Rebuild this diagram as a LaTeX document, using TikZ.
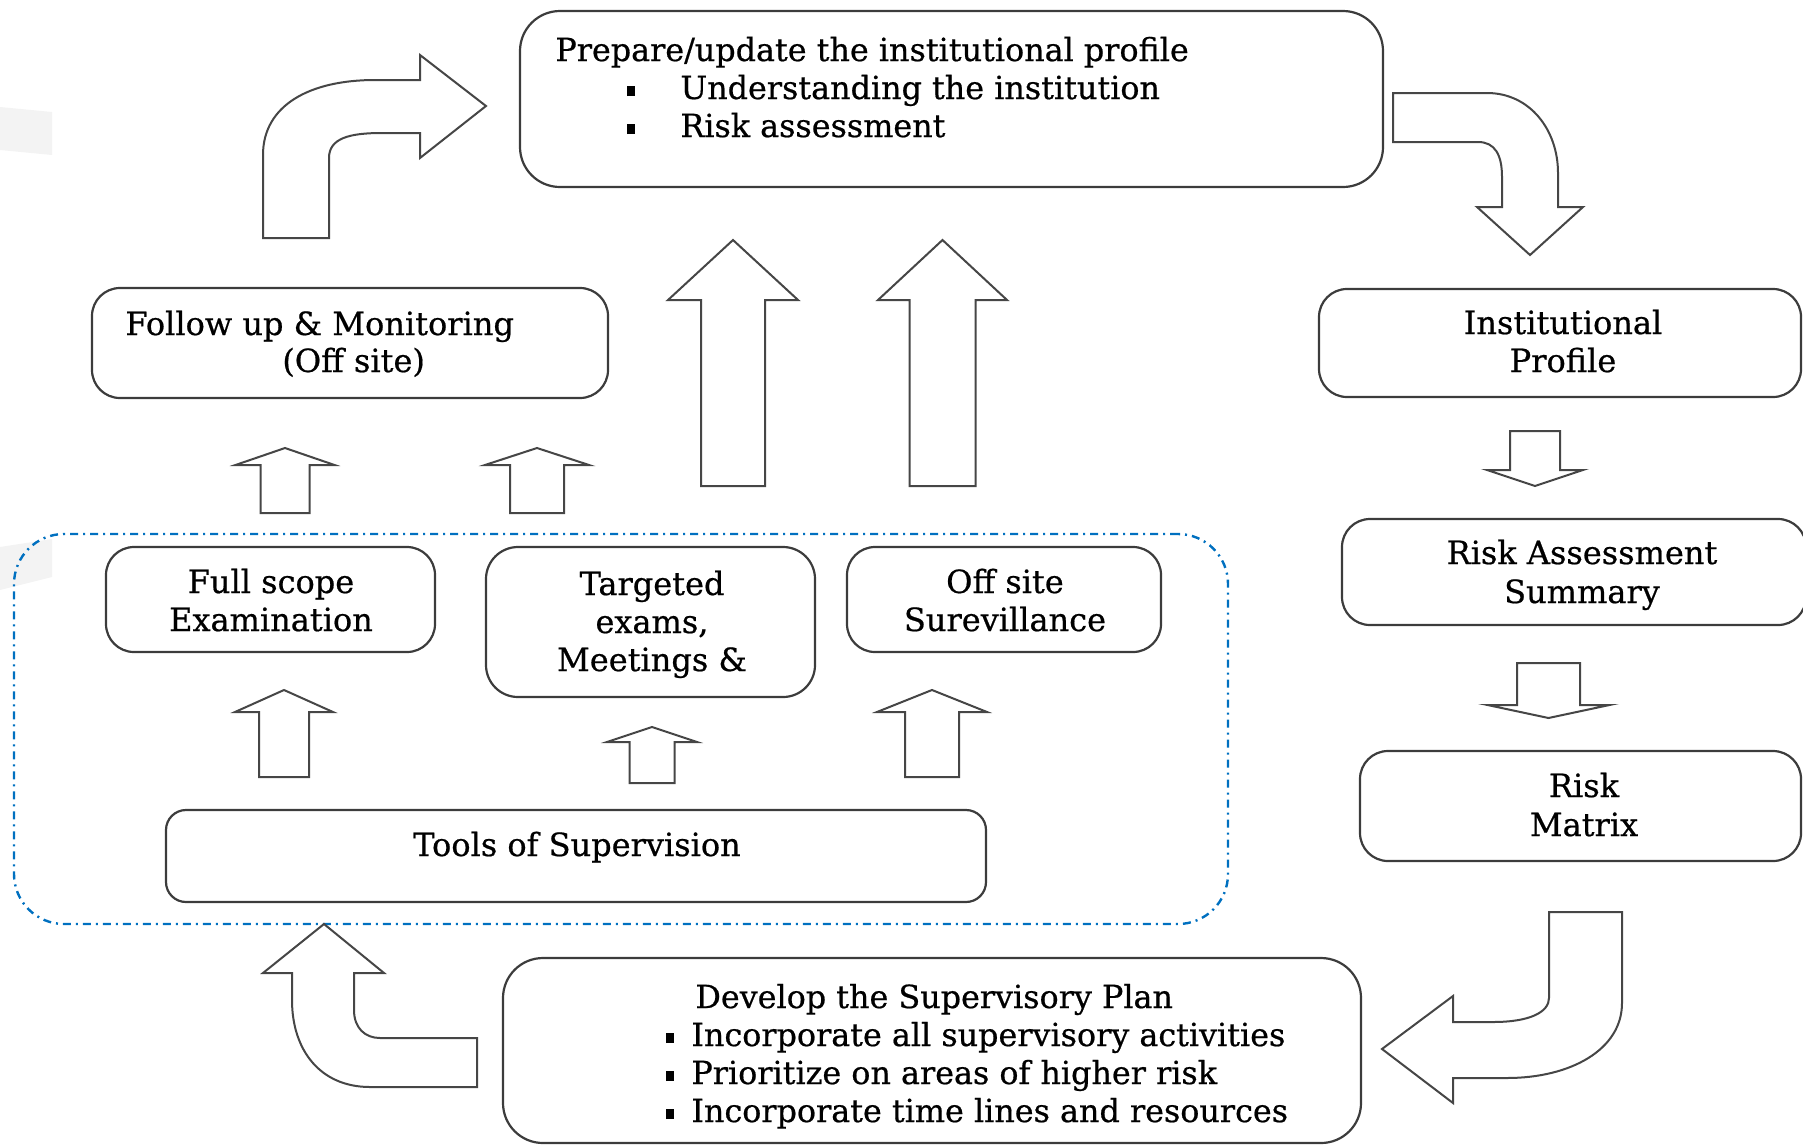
\documentclass[tikz,border=0pt]{standalone}
\usepackage{fontspec}
\setmainfont{DejaVu Serif}[FakeBold=0.6]
\usetikzlibrary{fit}
\definecolor{boxgray}{RGB}{60,60,60}
\definecolor{arrgray}{RGB}{70,70,70}
\definecolor{dotblue}{RGB}{0,112,192}
\definecolor{patch}{RGB}{243,243,243}
\newcommand{\sqbullet}{\rule[1.5pt]{4pt}{5pt}}
\newcommand{\blockarr}[6]{%
  \draw[blockarrow] ({#1-#5},#6) -- ({#1-#5},#3) -- ({#1-#4},#3) -- (#1,#2) -- ({#1+#4},#3) -- ({#1+#5},#3) -- ({#1+#5},#6) -- cycle;}
\begin{document}
\begin{tikzpicture}[x=0.5pt,y=-0.5pt,
  box/.style={draw=boxgray, line width=1.1pt, rounded corners=12pt, inner sep=0pt},
  blockarrow/.style={draw=arrgray, line width=1pt, fill=white, line join=miter},
  t16/.style={inner sep=0pt, font=\fontsize{16}{19}\selectfont},
  t14/.style={inner sep=0pt, font=\fontsize{15.9}{19}\selectfont}]
\useasboundingbox (0,0) rectangle (1803,1146);
% faint background patches
\fill[patch] (0,107) -- (52,112) -- (52,155) -- (0,150) -- cycle;
\fill[patch] (0,547) -- (52,539) -- (52,577) -- (0,590) -- cycle;
% dotted container
\node[draw=dotblue, line width=1.2pt, rounded corners=25pt, dash pattern=on 4pt off 2.5pt on 1pt off 2.5pt, inner sep=0pt, fit={(14,534) (1228,924)}] (group) {};
% boxes
\node[box, rounded corners=20pt, fit={(520,11) (1383,187)}] (top) {};
\node[box, rounded corners=14pt, fit={(92,288) (608,398)}] (follow) {};
\node[box, rounded corners=14pt, fit={(1319,289) (1801,397)}] (instprof) {};
\node[box, rounded corners=14pt, fit={(1342,519) (1806,625)}] (ras) {};
\node[box, rounded corners=14pt, fit={(1360,751) (1801,861)}] (rmatrix) {};
\node[box, rounded corners=14pt, fit={(106,547) (435,652)}] (fullscope) {};
\node[box, rounded corners=16pt, fit={(486,547) (815,697)}] (targeted) {};
\node[box, rounded corners=14pt, fit={(847,547) (1161,652)}] (offsite) {};
\node[box, rounded corners=10pt, fit={(166,810) (986,902)}] (tools) {};
\node[box, rounded corners=20pt, fit={(503,958) (1361,1143)}] (develop) {};
% texts
\node[t14, anchor=base west] (tl1) at (555,61) {Prepare/update the institutional profile};
\node[anchor=base west, inner sep=0pt] (tb1) at (627,99) {\sqbullet};
\node[t14, anchor=base west] (tl2) at (680,99) {Understanding the institution};
\node[anchor=base west, inner sep=0pt] (tb2) at (627,137) {\sqbullet};
\node[t14, anchor=base west] (tl3) at (680,137) {Risk assessment};
\node[t16, anchor=base west] (fu1) at (125,335) {Follow up \& Monitoring};
\node[t16, anchor=base west] (fu2) at (282,372) {(Off site)};
\node[t16, anchor=base] (ip1) at (1563,334) {Institutional};
\node[t16, anchor=base] (ip2) at (1563,372) {Profile};
\node[t16, anchor=base] (ras1) at (1582,564) {Risk Assessment};
\node[t16, anchor=base] (ras2) at (1582,603) {Summary};
\node[t16, anchor=base] (rm1) at (1584,797) {Risk};
\node[t16, anchor=base] (rm2) at (1584,836) {Matrix};
\node[t16, anchor=base] (fs1) at (271,593) {Full scope};
\node[t16, anchor=base] (fs2) at (271,631) {Examination};
\node[t16, anchor=base] (tg1) at (652,595) {Targeted};
\node[t16, anchor=base] (tg2) at (652,633) {exams,};
\node[t16, anchor=base] (tg3) at (652,671) {Meetings \&};
\node[t16, anchor=base] (os1) at (1005,593) {Off site};
\node[t16, anchor=base] (os2) at (1005,631) {Surevillance};
\node[t16, anchor=base] (toolst) at (577,856) {Tools of Supervision};
\node[t14, anchor=base west] (dv0) at (695,1008) {Develop the Supervisory Plan};
\node[anchor=base west, inner sep=0pt] (db1) at (666,1046) {\sqbullet};
\node[t14, anchor=base west] (dv1) at (691,1046) {Incorporate all supervisory activities};
\node[anchor=base west, inner sep=0pt] (db2) at (666,1084) {\sqbullet};
\node[t14, anchor=base west] (dv2) at (691,1084) {Prioritize on areas of higher risk};
\node[anchor=base west, inner sep=0pt] (db3) at (666,1122) {\sqbullet};
\node[t14, anchor=base west] (dv3) at (691,1122) {Incorporate time lines and resources};
% straight block arrows: cx, tip, headbase, halfhead, halfshaft, tail
\blockarr{285}{448}{465}{49.5}{24.5}{513}
\blockarr{537}{448}{465}{52}{27}{513}
\blockarr{733}{240}{300}{65}{32}{486}
\blockarr{942.5}{240}{300}{64.5}{33}{486}
\blockarr{284}{690}{712}{49}{25}{777}
\blockarr{652}{727}{742}{45}{22.5}{783}
\blockarr{932}{690}{712}{55}{27}{777}
\blockarr{1535}{486}{470}{48}{25}{431}
\blockarr{1548.5}{718}{705}{61}{31.5}{663}
% curved block arrows
\draw[blockarrow] (263,238) -- (263,155) .. controls (263,105) and (310,80) .. (375,80) -- (420,80) -- (420,55) -- (486,106) -- (420,158) -- (420,133) -- (382,133) .. controls (350,133) and (329,138) .. (329,158) -- (329,238) -- cycle;
\draw[blockarrow] (1393,93) -- (1487,93) .. controls (1530,93) and (1558,130) .. (1558,173) -- (1558,207) -- (1583,207) -- (1530,255) -- (1477,207) -- (1502,207) -- (1502,177) .. controls (1502,155) and (1495,142) .. (1478,142) -- (1393,142) -- cycle;
\draw[blockarrow] (1549,912) -- (1622,912) -- (1622,1003) .. controls (1622,1050) and (1570,1078) .. (1507,1078) -- (1453,1078) -- (1453,1103) -- (1382,1049) -- (1453,996) -- (1453,1022) -- (1493,1022) .. controls (1530,1022) and (1549,1012) .. (1549,998) -- cycle;
\draw[blockarrow] (477,1038) -- (477,1087) -- (370,1087) .. controls (320,1087) and (292,1050) .. (292,1000) -- (292,973) -- (263,973) -- (324,924) -- (384,973) -- (354,973) -- (354,1010) .. controls (354,1028) and (365,1038) .. (380,1038) -- cycle;
\end{tikzpicture}
\end{document}
